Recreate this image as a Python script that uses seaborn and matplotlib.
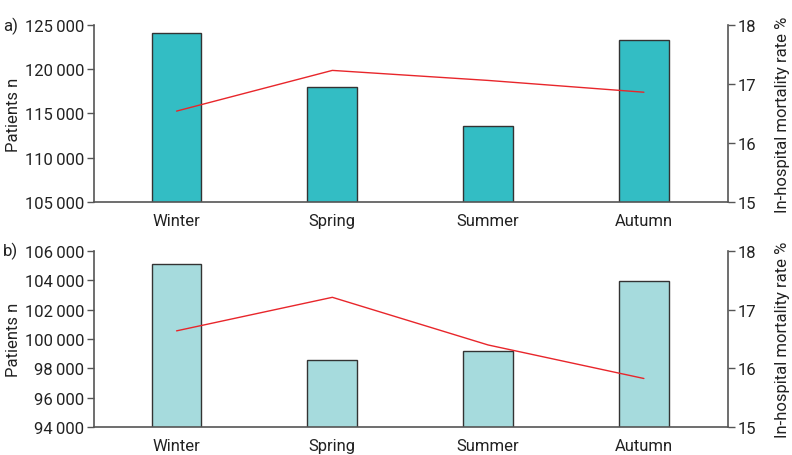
import matplotlib
matplotlib.use("Agg")
import matplotlib.pyplot as plt
import seaborn as sns
import pandas as pd
from matplotlib.ticker import FuncFormatter

seasons = ["Winter", "Spring", "Summer", "Autumn"]
patients_a = [124100, 118000, 113550, 123350]
mortality_a = [16.54, 17.23, 17.06, 16.86]
patients_b = [105100, 98600, 99200, 103950]
mortality_b = [16.64, 17.21, 16.40, 15.83]

sns.set_style("white")
plt.rcParams['font.family'] = ['Roboto', 'DejaVu Sans']

GRAY = "#555555"
TXT = "#222222"
FS = 12
fig = plt.figure(figsize=(7.92, 4.56), dpi=100)

def fmt(v, pos):
    return f"{int(round(v)):,}".replace(",", "\u2009")

def panel(rect, patients, mortality, color, ylim, yticks, letter):
    ax = fig.add_axes(rect)
    df = pd.DataFrame({"season": seasons, "patients": patients, "mortality": mortality})
    sns.barplot(data=df, x="season", y="patients", color=color, width=0.32,
                edgecolor="#333333", linewidth=1.0, saturation=1, ax=ax)
    ax.set_ylim(*ylim)
    ax.set_yticks(yticks)
    ax.yaxis.set_major_formatter(FuncFormatter(fmt))
    ax.set_xlim(-0.53, 3.54)
    ax.set_xlabel("")
    ax.set_ylabel("")
    ax2 = ax.twinx()
    sns.lineplot(x=[0, 1, 2, 3], y=mortality, color="#e8262b", linewidth=1.0, ax=ax2)
    ax2.set_ylim(15, 18)
    ax2.set_yticks([15, 16, 17, 18])
    ax2.set_xlim(-0.53, 3.54)
    ax2.set_ylabel("")
    for a in (ax, ax2):
        a.spines["top"].set_visible(False)
        for s in ("left", "right", "bottom"):
            a.spines[s].set_color(GRAY)
            a.spines[s].set_linewidth(1.2)
        a.tick_params(axis="both", direction="out", length=5, width=1.0, color=GRAY,
                      labelsize=FS, labelcolor=TXT, pad=2)
    ax.spines["right"].set_visible(False)
    ax2.spines["left"].set_visible(False)
    ax2.spines["bottom"].set_visible(False)
    ax.tick_params(axis="x", labelsize=FS, pad=3)
    ymid = rect[1] + rect[3] / 2
    fig.text(14 / 792, ymid, "Patients n", rotation=90, fontsize=FS, color=TXT,
             ha="center", va="center")
    fig.text(783 / 792, ymid, "In-hospital mortality rate %", rotation=90, fontsize=FS,
             color=TXT, ha="center", va="center")
    fig.text(0.004, rect[1] + rect[3], letter, fontsize=FS, color=TXT, va="center", ha="left")
    return ax, ax2

panel([0.1187, 0.555, 0.8005, 0.388], patients_a, mortality_a, "#33bdc4",
      (105000, 125000), [105000, 110000, 115000, 120000, 125000], "a)")
panel([0.1187, 0.0607, 0.8005, 0.387], patients_b, mortality_b, "#a6dbdd",
      (94000, 106000), [94000, 96000, 98000, 100000, 102000, 104000, 106000], "b)")

fig.savefig("out.png", dpi=100)
